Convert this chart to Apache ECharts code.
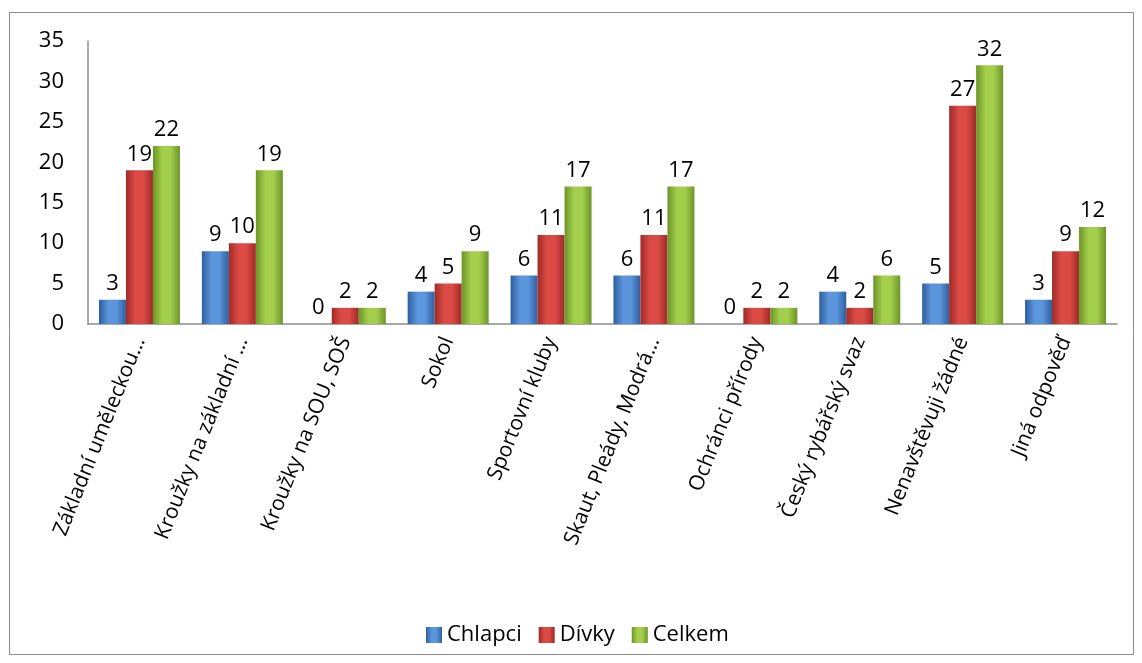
<!DOCTYPE html>
<html><head><meta charset="utf-8">
<script src="https://cdn.jsdelivr.net/npm/echarts@6/dist/echarts.min.js"></script>
<style>html,body{margin:0;padding:0;background:#fff}#c{width:1142px;height:663px}</style>
</head><body><div id="c"></div>
<script>
const categories = ["Základní uměleckou…","Kroužky na základní …","Kroužky na SOU, SOŠ","Sokol","Sportovní kluby","Skaut, Pleády, Modrá…","Ochránci přírody","Český rybářský svaz","Nenavštěvuji žádné","Jiná odpověď"];
const chlapci = [3,9,0,4,6,6,0,4,5,3];
const divky = [19,10,2,5,11,11,2,2,27,9];
const celkem = [22,19,2,9,17,17,2,6,32,12];
const yTicks = {min:0,max:35,interval:5};

const FONT = "'Open Sans', 'Noto Sans', sans-serif";
function grad(dark, light){
  return new echarts.graphic.LinearGradient(0,0,1,0,[
    {offset:0,color:dark},{offset:0.35,color:light},{offset:0.65,color:light},{offset:1,color:dark}]);
}
function series(name, data, dark, light){
  return {name, type:'bar', data, barWidth:27, barGap:'0%',
    itemStyle:{color:grad(dark,light)},
    label:{show:true, position:'top', distance:5, color:'#000', fontSize:22, fontFamily:FONT}};
}
const chart = echarts.init(document.getElementById('c'));
chart.setOption({
  animation:false,
  grid:{left:88, right:25, top:41, bottom:339, containLabel:false},
  graphic:[{type:'rect', shape:{x:9.5,y:12.5,width:1124,height:642}, style:{fill:'none', stroke:'#8c8c8c', lineWidth:1}, z:-1}],
  legend:{bottom:12, left:421, itemWidth:16, itemHeight:16, itemGap:17, icon:'rect',
    textStyle:{fontSize:22, fontFamily:FONT, color:'#000'}, data:['Chlapci','Dívky','Celkem']},
  xAxis:{type:'category', data:categories,
    axisLine:{lineStyle:{color:'#8c8c8c', width:1.5}}, axisTick:{show:false},
    axisLabel:{rotate:68, interval:0, fontSize:21, fontFamily:FONT, color:'#000', margin:14}},
  yAxis:{type:'value', min:yTicks.min, max:yTicks.max, interval:yTicks.interval,
    axisLine:{show:true, lineStyle:{color:'#8c8c8c', width:1.5}}, axisTick:{show:false},
    splitLine:{show:false},
    axisLabel:{fontSize:22, fontFamily:FONT, color:'#000', margin:24}},
  series:[
    series('Chlapci', chlapci, '#2e5f9e', '#5b95dc'),
    series('Dívky', divky, '#9e2a27', '#dc4a45'),
    series('Celkem', celkem, '#6c9428', '#a4cf4c')
  ]
});
</script></body></html>
